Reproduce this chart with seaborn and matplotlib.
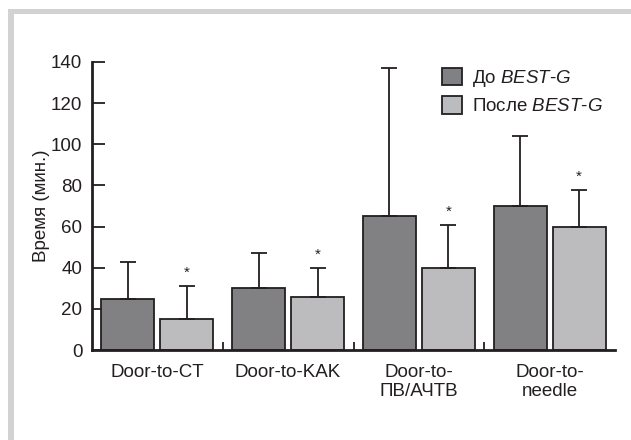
import matplotlib
matplotlib.use("Agg")
import matplotlib.pyplot as plt
import seaborn as sns
import pandas as pd
from matplotlib.patches import Rectangle, Patch

categories = ["Door-to-CT", "Door-to-KAK", "Door-to-\nПВ/АЧТВ", "Door-to-\nneedle"]
groups = ["До $\\mathit{BEST}$-$\\mathit{G}$", "После $\\mathit{BEST}$-$\\mathit{G}$"]
before_mean = [25, 30, 65, 70]
before_upper = [43, 47, 137, 104]
after_mean = [15, 26, 40, 60]
after_upper = [31, 40, 61, 78]
yticks = [0, 20, 40, 60, 80, 100, 120, 140]

sns.set_theme(style="white")
plt.rcParams['font.family'] = ['Liberation Sans', 'DejaVu Sans']
plt.rcParams['mathtext.fontset'] = 'custom'
plt.rcParams['mathtext.it'] = 'Liberation Sans:italic'
plt.rcParams['mathtext.rm'] = 'Liberation Sans'

TXT = "#231f20"
DARK = "#808185"
LIGHT = "#bbbcc0"
FS = 13.5

df = pd.DataFrame({
    "cat": categories * 2,
    "grp": [groups[0]] * 4 + [groups[1]] * 4,
    "val": before_mean + after_mean,
})

fig = plt.figure(figsize=(6.31, 4.40), dpi=100)
# gray frame (top and left)
fig.patches.append(Rectangle((8/631, 1 - 14/440), 1, 5/440, transform=fig.transFigure,
                             facecolor="#d2d2d2", edgecolor="none", zorder=0))
fig.patches.append(Rectangle((8/631, 0), 6/631, 1 - 9/440, transform=fig.transFigure,
                             facecolor="#d2d2d2", edgecolor="none", zorder=0))

ax = fig.add_axes([92/631, 90/440, (615-92)/631, (350-62)/440])
sns.barplot(data=df, x="cat", y="val", hue="grp", palette=[DARK, LIGHT],
            errorbar=None, width=0.9, gap=0.1, edgecolor=TXT, linewidth=1.3,
            ax=ax, legend=False)

uppers = {groups[0]: before_upper, groups[1]: after_upper}
means = {groups[0]: before_mean, groups[1]: after_mean}
bar_containers = list(ax.containers)
for gi, cont in enumerate(bar_containers):
    g = groups[gi]
    for i, bar in enumerate(cont):
        xc = bar.get_x() + bar.get_width() / 2
        m = means[g][i]
        u = uppers[g][i]
        ax.errorbar([xc], [m], yerr=[[0], [u - m]], fmt="none", ecolor=TXT,
                    elinewidth=1.3, capsize=6, capthick=1.3, zorder=1)
        if gi == 1:
            ax.text(xc, u + 3.0, "*", ha="center", va="bottom", fontsize=11, color=TXT)

ax.set_xlim(-0.5, 3.5)
ax.set_ylim(0, 140)
ax.set_yticks(yticks)
ax.set_xticks([0.5, 1.5, 2.5], minor=True)
ax.set_xticks(range(4))
ax.set_xticklabels(categories, linespacing=1.15)
ax.tick_params(axis="y", direction="in", length=9, width=1.3, colors=TXT,
               labelsize=FS, pad=7, left=True)
ax.tick_params(axis="x", which="major", length=0, labelsize=FS, colors=TXT, pad=10)
ax.tick_params(axis="x", which="minor", direction="in", length=6, width=1.3,
               color=TXT, bottom=True)
for s in ["top", "right"]:
    ax.spines[s].set_visible(False)
for s in ["left", "bottom"]:
    ax.spines[s].set_color(TXT)
    ax.spines[s].set_linewidth(2)
ax.set_xlabel("")
ax.set_ylabel("Время (мин.)", fontsize=FS, color=TXT, labelpad=1)

handles = [Patch(facecolor=DARK, edgecolor=TXT, linewidth=1.3),
           Patch(facecolor=LIGHT, edgecolor=TXT, linewidth=1.3)]
leg = ax.legend(handles, groups, loc="upper left",
                bbox_to_anchor=((442-92)/523, 1 - 6/288),
                frameon=False, fontsize=FS, handlelength=1.05, handleheight=1.05,
                handletextpad=0.55, labelspacing=0.38, borderaxespad=0, borderpad=0)
for t in leg.get_texts():
    t.set_color(TXT)

fig.savefig("out.png", dpi=100, facecolor="white")
